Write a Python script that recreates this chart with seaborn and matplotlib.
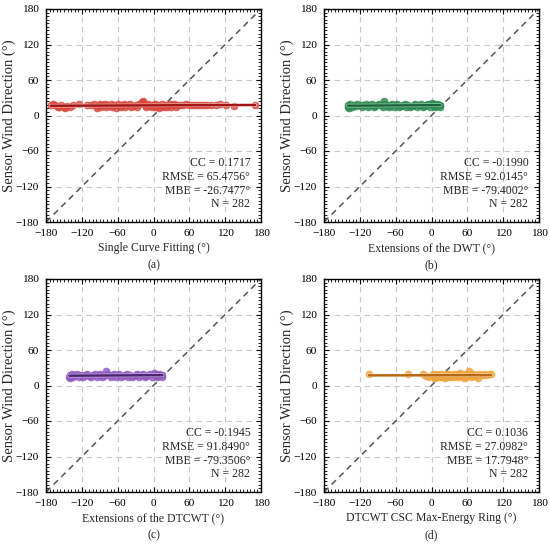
import numpy as np
import pandas as pd
import matplotlib
matplotlib.use("Agg")
import matplotlib.pyplot as plt
import matplotlib.patheffects as pe
from matplotlib.ticker import MultipleLocator
import seaborn as sns

sns.set_style("white")
plt.rcParams['font.family'] = ['Liberation Serif', 'DejaVu Serif']

# ---------------- data ----------------
a_x = [-172, -168, -165, -160, -158, -155, -150, -148, -145, -140, -135, -125, -112,
       -105, -100, -97, -95, -92, -90, -88, -85, -82, -80, -78, -75, -72, -70, -66,
       -63, -60, -57, -55, -52, -50, -47, -44, -40, -37, -34, -30, -27, -24, -20,
       -18, -16, -14, -12, -10, -8, -5, -3, 0, 3, 5, 8, 10, 12, 15, 18, 20, 22, 25,
       28, 30, 32, 35, 38, 40, 45, 50, 55, 60, 65, 70, 75, 80, 85, 90, 97, 105, 112,
       122, 135, 170]
a_y = [18, 19, 17, 15, 14, 18, 15, 13, 16, 14, 18, 19, 18,
       17, 19, 16, 13, 18, 20, 15, 17, 19, 14, 18, 16, 20, 15, 18,
       13, 19, 16, 14, 18, 20, 15, 17, 19, 14, 16, 18, 15, 19, 22,
       25, 20, 17, 14, 19, 16, 18, 14, 17, 19, 15, 18, 13, 16, 19, 15, 17, 14, 18,
       20, 15, 17, 19, 14, 18, 17, 18, 19, 17, 18, 17, 18, 17, 18, 17, 18, 17, 19,
       17, 16, 18]

b_x = [-140, -139, -138, -136, -133, -130, -127, -124, -120, -117, -114, -110, -107,
       -104, -100, -97, -94, -91, -88, -85, -82, -80, -78, -75, -72, -69, -66, -63,
       -60, -57, -54, -51, -48, -45, -42, -39, -36, -33, -30, -27, -24, -21, -18,
       -15, -12, -9, -6, -3, 0, 2, 4, 6, 8, 10, 12, 14, 15]
b_y = [14, 17, 12, 19, 15, 18, 16, 19, 17, 14, 18, 20, 15,
       17, 19, 14, 16, 18, 20, 17, 15, 24, 19, 16, 14, 18, 20, 15,
       17, 19, 14, 16, 18, 20, 15, 17, 14, 16, 18, 20, 15, 17, 19,
       14, 16, 18, 20, 15, 21, 17, 19, 14, 16, 20, 18, 15, 17]

c_x = [-141, -140, -139, -137, -134, -131, -128, -125, -121, -118, -115, -111, -108,
       -105, -101, -98, -95, -92, -89, -86, -83, -80, -78, -75, -72, -69, -66, -63,
       -60, -57, -54, -51, -48, -45, -42, -39, -36, -33, -30, -27, -24, -21, -18,
       -15, -12, -9, -6, -3, 0, 2, 4, 6, 8, 10, 12, 14, 15]
c_y = [15, 12, 18, 19, 14, 17, 19, 15, 18, 14, 17, 20, 16,
       14, 18, 19, 15, 17, 20, 14, 16, 25, 19, 17, 14, 18, 20, 15,
       17, 19, 14, 16, 18, 19, 15, 17, 14, 16, 18, 20, 15, 17, 19,
       14, 16, 18, 20, 15, 21, 17, 19, 14, 16, 20, 18, 15, 17]

d_x = [-105, -40, -15, -10, -5, 0, 2, 4, 6, 8, 10, 12, 14, 16, 18, 20, 22, 24, 26,
       28, 30, 32, 34, 36, 38, 40, 42, 44, 46, 48, 50, 52, 54, 56, 58, 60, 62, 64,
       66, 68, 70, 72, 75, 78, 80, 84, 88, 92, 96, 100]
d_y = [20, 20, 20, 16, 14, 18, 20, 15, 13, 17, 19, 14, 16, 20, 15, 18, 13, 17, 19,
       15, 20, 14, 16, 18, 20, 15, 17, 19, 14, 21, 16, 18, 13, 20, 15, 17, 25, 19,
       14, 18, 20, 16, 18, 13, 19, 17, 20, 18, 19, 19]

x_labels = ["Single Curve Fitting (°)", "Extensions of the DWT (°)",
            "Extensions of the DTCWT (°)", "DTCWT CSC Max-Energy Ring (°)"]
captions = ["(a)", "(b)", "(c)", "(d)"]
stats_cc = ["0.1717", "-0.1990", "-0.1945", "0.1036"]
stats_rmse = ["65.4756", "92.0145", "91.8490", "27.0982"]
stats_mbe = ["-26.7477", "-79.4002", "-79.3506", "17.7948"]
stats_n = [282, 282, 282, 282]
ticks = [-180, -120, -60, 0, 60, 120, 180]

point_colors = ["#d8463b", "#2a8a4e", "#9158c0", "#f0a23a"]
line_colors = ["#a31515", "#17633a", "#4a2470", "#b86812"]

xs = [a_x, b_x, c_x, d_x]
ys = [a_y, b_y, c_y, d_y]

# ---------------- figure ----------------
fig = plt.figure(figsize=(5.5, 5.45), dpi=100)
W, H = 550, 545
boxes = [(46, 9), (324, 9), (46, 279), (324, 279)]  # left, top in px
aw, ah = 215, 213

for i in range(4):
    l, t = boxes[i]
    ax = fig.add_axes([l / W, 1 - (t + ah) / H, aw / W, ah / H])
    df = pd.DataFrame({"x": xs[i], "y": ys[i]})
    ax.plot([-180, 180], [-180, 180], linestyle=(0, (4, 3)), color="#555555",
            linewidth=1.1, zorder=1.5)
    sns.regplot(data=df, x="x", y="y", ax=ax, ci=None, truncate=True,
                scatter_kws=dict(s=24, color=point_colors[i], alpha=0.8,
                                 edgecolor=point_colors[i], linewidths=0.6,
                                 zorder=2),
                line_kws=dict(color=line_colors[i], linewidth=1.8, zorder=3,
                              path_effects=[pe.Stroke(linewidth=2.6, foreground="white",
                                                      alpha=0.7),
                                            pe.Normal()]))
    ax.set_xlim(-180, 180)
    ax.set_ylim(-180, 180)
    ax.set_xticks(ticks)
    ax.set_yticks(ticks)
    ax.xaxis.set_minor_locator(MultipleLocator(6))
    ax.yaxis.set_minor_locator(MultipleLocator(6))
    ax.tick_params(which="both", direction="in", top=True, right=True,
                   bottom=True, left=True, colors="black", labelsize=8.2, pad=5)
    ax.tick_params(which="major", length=3.5, width=0.8)
    ax.tick_params(which="minor", length=2, width=0.6)
    ax.grid(True, which="major", linestyle=(0, (5, 4)), color="#c8c8c8", linewidth=0.8)
    ax.set_axisbelow(True)
    for s in ax.spines.values():
        s.set_color("black")
        s.set_linewidth(1.0)
    ax.set_xlabel(x_labels[i], fontsize=8.5, labelpad=3)
    ax.set_ylabel("Sensor Wind Direction (°)", fontsize=10.5, labelpad=0)
    txt = (f"CC = {stats_cc[i]}\nRMSE = {stats_rmse[i]}°\n"
           f"MBE = {stats_mbe[i]}°\nN = {stats_n[i]}")
    ax.text(0.95, 0.18, txt, transform=ax.transAxes, ha="right", va="center",
            fontsize=8.5, linespacing=1.2)
    ax.text(0.5, -0.205, captions[i], transform=ax.transAxes, ha="center",
            va="center", fontsize=8.5)

fig.savefig("out.png", dpi=100)
